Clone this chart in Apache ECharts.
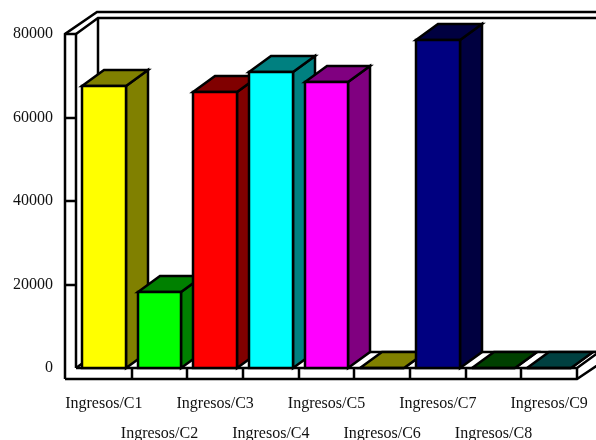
<!DOCTYPE html>
<html><head><meta charset="utf-8">
<style>html,body{margin:0;padding:0;background:#fff}#c{width:596px;height:440px}</style>
<script src="https://cdn.jsdelivr.net/npm/echarts@6/dist/echarts.min.js"></script>
</head><body><div id="c"></div>
<script>
const categories = ['Ingresos/C1','Ingresos/C2','Ingresos/C3','Ingresos/C4','Ingresos/C5','Ingresos/C6','Ingresos/C7','Ingresos/C8','Ingresos/C9'];
const values = [67500, 18200, 66100, 70900, 68500, 0, 78500, 0, 0];
const frontColors = ['#ffff00','#00ff00','#ff0000','#00ffff','#ff00ff','#ffff00','#000080','#008000','#008080'];
const topColors = ['#808000','#008000','#800000','#008080','#800080','#808000','#000040','#004000','#004040'];
const yTicks = [20000, 40000, 60000];
const depthX = 22, depthY = 16, wallOut = 11, lw = 2.5;

const chart = echarts.init(document.getElementById('c'), null, {renderer:'canvas'});
const snap = pts => pts.map(p => [Math.round(p[0]), Math.round(p[1])]);
const line = (pts) => ({type:'polyline', shape:{points:snap(pts)}, style:{fill:null, stroke:'#000', lineWidth:lw}});
const poly = (pts, fill) => ({type:'polygon', shape:{points:snap(pts)}, style:{fill, stroke:'#000', lineWidth:lw, lineJoin:'miter'}});

function renderFrame(params, api){
  const cs = params.coordSys;
  const L = cs.x, R = cs.x + cs.width, T = cs.y, B = cs.y + cs.height;
  const OL = L - wallOut, OB = B + wallOut, far = R + depthX + wallOut;
  return {type:'group', children:[
    line([[OL,T],[L,T],[L,B]]),
    line([[OL,OB],[OL,T],[L+depthX-1,T-depthY-6],[far,T-depthY-6]]),
    line([[L,T],[L+depthX,T-depthY],[far,T-depthY]]),
    line([[L+depthX,T-depthY],[L+depthX,B-depthY],[far,B-depthY]]),
    line([[L,B],[L+depthX,B-depthY]]),
    line([[L,B],[R,B],[R+depthX,B-depthY]]),
    line([[OL,OB],[R,OB],[R+depthX+wallOut,OB-depthY-wallOut+5]]),
    line([[R,B],[R,OB]])
  ]};
}
function renderBar(params, api){
  const i = api.value(0), v = api.value(1);
  const top = api.coord([i, v]), base = api.coord([i, 0]);
  const w = api.size([1, 0])[0] * 0.79;
  const x0 = top[0] - w/2, x1 = top[0] + w/2, yT = top[1], yB = base[1];
  const c = topColors[i];
  return {type:'group', children:[
    poly([[x1,yB],[x1+depthX,yB-depthY],[x1+depthX,yT-depthY],[x1,yT]], c),
    poly([[x0,yT],[x0+depthX,yT-depthY],[x1+depthX,yT-depthY],[x1,yT]], c),
    poly([[x0,yT],[x1,yT],[x1,yB],[x0,yB]], frontColors[i])
  ]};
}
chart.setOption({
  animation:false,
  backgroundColor:'#fff',
  grid:{left:76, right:19, top:34, bottom:72, containLabel:false, outerBoundsMode:'none'},
  xAxis:{type:'category', data:categories, z:1,
    axisLine:{show:false},
    axisTick:{show:false},
    axisLabel:{interval:0, margin:21, fontFamily:'Liberation Serif', fontSize:16, color:'#111', lineHeight:30, hideOverlap:false,
      formatter:(v,i)=> i%2 ? '\n'+v : v},
    splitLine:{show:false}},
  yAxis:{type:'value', min:0, max:80000, interval:20000,
    axisLine:{show:false},
    axisTick:{show:false},
    axisLabel:{margin:23, padding:[4,0,0,0], fontFamily:'Liberation Serif', fontSize:16, color:'#111', formatter:v=>String(v)},
    splitLine:{show:false}},
  series:[
    {type:'custom', coordinateSystem:'cartesian2d', clip:false, silent:true, data:[[0,0]], renderItem:renderFrame, z:1},
    {type:'custom', coordinateSystem:'cartesian2d', clip:false, silent:true, z:2,
      renderItem:(p,api)=>{
        const c = api.coord([0,api.value(1)]);
        const L = p.coordSys.x;
        return line([[L-wallOut,c[1]],[L,c[1]]]);
      },
      data:yTicks.map(t=>[0,t])},
    {type:'custom', coordinateSystem:'cartesian2d', clip:false, silent:true, z:2,
      renderItem:(p,api)=>{
        const i = api.value(0), c = api.coord([i,0]), w = api.size([1,0])[0];
        const x = c[0]+w/2;
        return i<categories.length-1 ? line([[x,c[1]],[x,c[1]+wallOut]]) : null;
      },
      data:categories.map((_,i)=>[i,0])},
    {type:'custom', coordinateSystem:'cartesian2d', clip:false, silent:true, z:3,
      encode:{x:0,y:1}, renderItem:renderBar,
      data:values.map((v,i)=>[i,v])}
  ]
});
</script></body></html>
